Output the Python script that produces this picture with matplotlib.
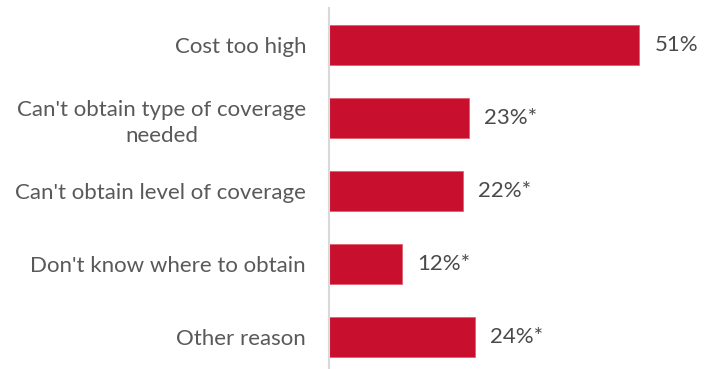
import matplotlib
matplotlib.use('Agg')
import matplotlib.pyplot as plt

categories = ['Cost too high', "Can't obtain type of coverage\nneeded",
              "Can't obtain level of coverage", "Don't know where to obtain",
              'Other reason']
values = [51, 23, 22, 12, 24]
value_labels = ['51%', '23%*', '22%*', '12%*', '24%*']

plt.rcParams['font.family'] = ['Lato', 'DejaVu Sans']

fig = plt.figure(figsize=(7.09, 3.69), dpi=100)
ax = fig.add_axes([0.464, -0.012, 0.515, 0.989])

ypos = range(len(categories))
ax.barh(ypos, values, height=0.55, color='#C8102E', edgecolor='#E0606F', linewidth=0.6)
ax.set_ylim(len(categories) - 0.5, -0.5)
ax.set_xlim(0, 60)

for y, v, lab in zip(ypos, values, value_labels):
    ax.text(v + 2.5, y, lab, va='center', ha='left', fontsize=16, color='#4a4a4a')

ax.set_yticks(list(ypos))
ax.set_yticklabels(categories, fontsize=16, color='#595959', ha='right',
                   multialignment='center', linespacing=1.35)
ax.tick_params(axis='y', length=0, pad=16.5)
ax.set_xticks([])

for s in ['top', 'right', 'bottom']:
    ax.spines[s].set_visible(False)
ax.spines['left'].set_color('#D9D9D9')
ax.spines['left'].set_linewidth(1.5)

fig.savefig('out.png', dpi=100)
